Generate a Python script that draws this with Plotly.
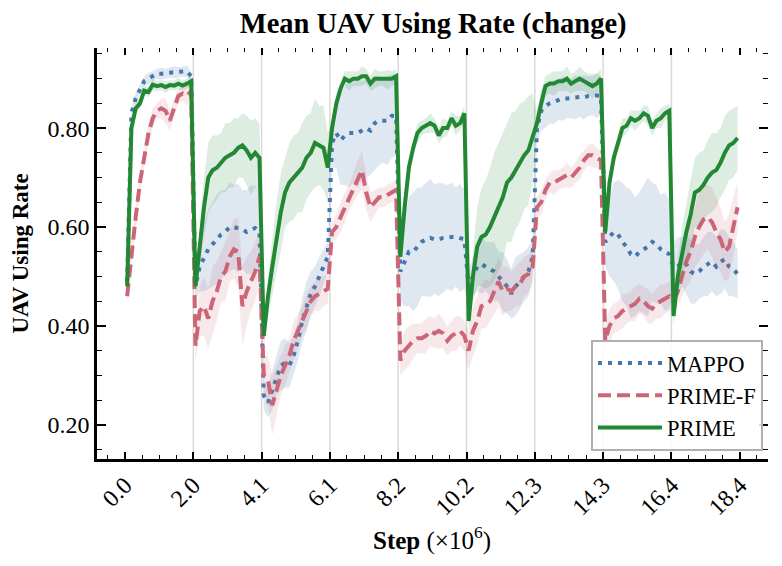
import plotly.graph_objects as go

# Mean UAV using rate over training, task changes every 2.048M steps
seg_len = 2.048
n_seg = 9
pts_per_seg = 16
step = [round(s * seg_len + 0.064 + 0.128 * j, 3) for s in range(n_seg) for j in range(pts_per_seg)]

x_tick_labels = ["0.0", "2.0", "4.1", "6.1", "8.2", "10.2", "12.3", "14.3", "16.4", "18.4"]
y_tick_vals = [0.2, 0.4, 0.6, 0.8]

mappo_mean = [
    0.49, 0.83, 0.86, 0.88, 0.895, 0.90, 0.905, 0.91, 0.91, 0.91, 0.912, 0.913, 0.913, 0.914, 0.915, 0.905,
    0.48, 0.52, 0.54, 0.555, 0.565, 0.575, 0.585, 0.59, 0.60, 0.60, 0.598, 0.595, 0.59, 0.595, 0.598, 0.59,
    0.26, 0.245, 0.27, 0.30, 0.32, 0.325, 0.32, 0.34, 0.37, 0.41, 0.44, 0.465, 0.48, 0.50, 0.52, 0.54,
    0.77, 0.79, 0.775, 0.785, 0.79, 0.79, 0.79, 0.795, 0.80, 0.795, 0.81, 0.815, 0.815, 0.815, 0.825, 0.825,
    0.51, 0.53, 0.55, 0.55, 0.56, 0.57, 0.575, 0.578, 0.575, 0.575, 0.578, 0.58, 0.58, 0.58, 0.578, 0.575,
    0.48, 0.50, 0.52, 0.525, 0.52, 0.515, 0.51, 0.50, 0.49, 0.48, 0.465, 0.48, 0.49, 0.50, 0.51, 0.54,
    0.80, 0.835, 0.845, 0.85, 0.853, 0.857, 0.86, 0.86, 0.86, 0.862, 0.863, 0.862, 0.865, 0.866, 0.866, 0.865,
    0.57, 0.58, 0.59, 0.585, 0.57, 0.56, 0.545, 0.54, 0.55, 0.555, 0.56, 0.57, 0.565, 0.555, 0.55, 0.545,
    0.52, 0.52, 0.53, 0.525, 0.51, 0.505, 0.51, 0.52, 0.525, 0.53, 0.52, 0.53, 0.535, 0.52, 0.515, 0.505,
]
mappo_spread = [
    0.01, 0.01, 0.012, 0.01, 0.01, 0.012, 0.01, 0.01, 0.012, 0.01, 0.01, 0.012, 0.01, 0.01, 0.012, 0.01,
    0.03, 0.05, 0.07, 0.08, 0.085, 0.09, 0.09, 0.085, 0.09, 0.085, 0.09, 0.08, 0.085, 0.09, 0.085, 0.08,
    0.03, 0.03, 0.04, 0.04, 0.05, 0.05, 0.045, 0.04, 0.04, 0.045, 0.05, 0.045, 0.04, 0.04, 0.035, 0.03,
    0.05, 0.07, 0.09, 0.10, 0.11, 0.10, 0.11, 0.10, 0.10, 0.09, 0.095, 0.09, 0.085, 0.09, 0.085, 0.08,
    0.06, 0.09, 0.11, 0.12, 0.12, 0.11, 0.115, 0.12, 0.11, 0.115, 0.11, 0.105, 0.11, 0.10, 0.11, 0.10,
    0.03, 0.04, 0.05, 0.06, 0.05, 0.055, 0.06, 0.05, 0.06, 0.055, 0.05, 0.06, 0.055, 0.05, 0.05, 0.04,
    0.03, 0.04, 0.045, 0.04, 0.045, 0.04, 0.045, 0.04, 0.04, 0.045, 0.04, 0.045, 0.04, 0.04, 0.045, 0.04,
    0.05, 0.08, 0.10, 0.11, 0.12, 0.12, 0.13, 0.12, 0.12, 0.13, 0.14, 0.12, 0.12, 0.11, 0.12, 0.11,
    0.05, 0.06, 0.05, 0.06, 0.065, 0.06, 0.055, 0.06, 0.065, 0.06, 0.06, 0.065, 0.06, 0.06, 0.055, 0.05,
]

primef_mean = [
    0.46, 0.55, 0.62, 0.69, 0.74, 0.79, 0.82, 0.835, 0.84, 0.835, 0.815, 0.84, 0.865, 0.87, 0.865, 0.875,
    0.36, 0.43, 0.44, 0.415, 0.45, 0.47, 0.50, 0.51, 0.54, 0.555, 0.55, 0.44, 0.47, 0.49, 0.51, 0.54,
    0.30, 0.29, 0.24, 0.27, 0.30, 0.32, 0.34, 0.37, 0.39, 0.41, 0.43, 0.45, 0.46, 0.465, 0.47, 0.475,
    0.59, 0.60, 0.62, 0.64, 0.66, 0.68, 0.70, 0.715, 0.67, 0.64, 0.65, 0.66, 0.66, 0.665, 0.67, 0.675,
    0.33, 0.35, 0.36, 0.37, 0.375, 0.375, 0.38, 0.39, 0.385, 0.39, 0.385, 0.37, 0.38, 0.385, 0.39, 0.38,
    0.35, 0.39, 0.41, 0.44, 0.445, 0.45, 0.47, 0.49, 0.47, 0.475, 0.47, 0.48, 0.485, 0.50, 0.505, 0.52,
    0.64, 0.65, 0.675, 0.69, 0.69, 0.695, 0.70, 0.705, 0.70, 0.71, 0.72, 0.735, 0.745, 0.745, 0.74, 0.735,
    0.37, 0.40, 0.415, 0.42, 0.43, 0.435, 0.44, 0.445, 0.455, 0.45, 0.44, 0.435, 0.445, 0.45, 0.455, 0.46,
    0.45, 0.47, 0.50, 0.53, 0.55, 0.58, 0.60, 0.615, 0.62, 0.61, 0.59, 0.575, 0.55, 0.56, 0.60, 0.64,
]
primef_spread = [
    0.01, 0.02, 0.02, 0.02, 0.015, 0.02, 0.02, 0.015, 0.02, 0.025, 0.02, 0.02, 0.015, 0.015, 0.02, 0.015,
    0.03, 0.05, 0.06, 0.06, 0.07, 0.06, 0.05, 0.06, 0.05, 0.06, 0.07, 0.08, 0.07, 0.06, 0.06, 0.05,
    0.04, 0.05, 0.06, 0.05, 0.04, 0.04, 0.035, 0.04, 0.035, 0.03, 0.035, 0.03, 0.03, 0.035, 0.03, 0.03,
    0.02, 0.025, 0.03, 0.03, 0.025, 0.03, 0.035, 0.04, 0.035, 0.03, 0.025, 0.02, 0.02, 0.02, 0.02, 0.02,
    0.03, 0.04, 0.04, 0.035, 0.03, 0.03, 0.035, 0.03, 0.03, 0.035, 0.03, 0.03, 0.03, 0.035, 0.03, 0.03,
    0.04, 0.05, 0.05, 0.045, 0.05, 0.04, 0.045, 0.05, 0.05, 0.045, 0.04, 0.04, 0.045, 0.04, 0.04, 0.035,
    0.02, 0.025, 0.02, 0.02, 0.025, 0.02, 0.02, 0.025, 0.02, 0.02, 0.025, 0.02, 0.02, 0.025, 0.02, 0.02,
    0.03, 0.035, 0.03, 0.03, 0.035, 0.03, 0.03, 0.035, 0.03, 0.03, 0.035, 0.03, 0.03, 0.035, 0.03, 0.03,
    0.02, 0.03, 0.04, 0.05, 0.06, 0.06, 0.07, 0.07, 0.065, 0.07, 0.07, 0.065, 0.06, 0.065, 0.06, 0.05,
]

prime_mean = [
    0.48, 0.80, 0.84, 0.85, 0.876, 0.873, 0.888, 0.885, 0.887, 0.883, 0.887, 0.886, 0.89, 0.886, 0.89, 0.895,
    0.48, 0.56, 0.64, 0.70, 0.715, 0.72, 0.73, 0.74, 0.745, 0.75, 0.76, 0.765, 0.755, 0.74, 0.75, 0.74,
    0.38, 0.46, 0.52, 0.58, 0.63, 0.67, 0.69, 0.70, 0.71, 0.72, 0.74, 0.75, 0.77, 0.765, 0.76, 0.72,
    0.80, 0.85, 0.88, 0.90, 0.895, 0.90, 0.90, 0.905, 0.905, 0.89, 0.90, 0.90, 0.90, 0.898, 0.90, 0.905,
    0.54, 0.64, 0.72, 0.76, 0.79, 0.80, 0.805, 0.81, 0.805, 0.785, 0.80, 0.80, 0.82, 0.805, 0.81, 0.83,
    0.41, 0.50, 0.56, 0.58, 0.585, 0.60, 0.62, 0.64, 0.66, 0.69, 0.70, 0.715, 0.73, 0.745, 0.755, 0.78,
    0.81, 0.85, 0.885, 0.89, 0.89, 0.895, 0.895, 0.90, 0.89, 0.895, 0.90, 0.895, 0.89, 0.885, 0.89, 0.90,
    0.59, 0.69, 0.74, 0.77, 0.80, 0.805, 0.82, 0.815, 0.82, 0.83, 0.825, 0.80, 0.815, 0.82, 0.83, 0.835,
    0.42, 0.50, 0.55, 0.59, 0.625, 0.67, 0.675, 0.685, 0.70, 0.71, 0.715, 0.73, 0.75, 0.765, 0.77, 0.78,
]
prime_spread = [
    0.02, 0.01, 0.01, 0.012, 0.01, 0.01, 0.012, 0.01, 0.01, 0.012, 0.01, 0.01, 0.012, 0.01, 0.01, 0.012,
    0.02, 0.04, 0.06, 0.07, 0.07, 0.065, 0.06, 0.07, 0.065, 0.07, 0.06, 0.065, 0.07, 0.075, 0.07, 0.07,
    0.02, 0.04, 0.06, 0.07, 0.08, 0.07, 0.08, 0.085, 0.08, 0.09, 0.085, 0.08, 0.09, 0.08, 0.085, 0.07,
    0.015, 0.02, 0.015, 0.015, 0.02, 0.015, 0.015, 0.02, 0.015, 0.015, 0.02, 0.015, 0.015, 0.02, 0.015, 0.015,
    0.015, 0.02, 0.015, 0.015, 0.02, 0.015, 0.015, 0.02, 0.015, 0.015, 0.02, 0.015, 0.015, 0.02, 0.015, 0.015,
    0.02, 0.05, 0.08, 0.10, 0.11, 0.12, 0.13, 0.13, 0.13, 0.12, 0.13, 0.12, 0.12, 0.11, 0.11, 0.09,
    0.02, 0.025, 0.02, 0.02, 0.025, 0.02, 0.02, 0.025, 0.02, 0.02, 0.025, 0.02, 0.02, 0.025, 0.02, 0.02,
    0.015, 0.02, 0.015, 0.015, 0.02, 0.015, 0.015, 0.02, 0.015, 0.015, 0.02, 0.015, 0.015, 0.02, 0.015, 0.015,
    0.02, 0.04, 0.05, 0.06, 0.07, 0.07, 0.075, 0.07, 0.075, 0.08, 0.075, 0.07, 0.075, 0.07, 0.07, 0.065,
]

series = [
    ("MAPPO", mappo_mean, mappo_spread, "#4477AA", "rgba(68,119,170,0.17)", "4px,6px"),
    ("PRIME-F", primef_mean, primef_spread, "#CC6677", "rgba(204,102,119,0.15)", "13px,6px"),
    ("PRIME", prime_mean, prime_spread, "#228833", "rgba(34,136,51,0.15)", "solid"),
]

FONT = "Liberation Serif"

fig = go.Figure()
for name, mean, spread, color, fill, dash in series:
    hi = [m + s for m, s in zip(mean, spread)]
    lo = [m - s for m, s in zip(mean, spread)]
    fig.add_trace(go.Scatter(
        x=step + step[::-1], y=hi + lo[::-1],
        fill="toself", fillcolor=fill, line=dict(width=0),
        mode="lines", showlegend=False, hoverinfo="skip"
    ))
    fig.add_trace(go.Scatter(
        x=step, y=mean, mode="lines", name=name,
        line=dict(color=color, width=4, dash=dash)
    ))

# dummy trace so the mirrored top/right tick axes get drawn
fig.add_trace(go.Scatter(x=[None], y=[None], xaxis="x2", yaxis="y2", showlegend=False, hoverinfo="skip"))

# task change markers
for k in range(1, n_seg):
    fig.add_shape(type="line", x0=k * seg_len, x1=k * seg_len, y0=0, y1=1,
                  xref="x", yref="paper", layer="below",
                  line=dict(color="#d9d9d9", width=1.5))

x_range = [-0.84, 19.28]
y_range = [0.131, 0.962]
x_ticks = [k * seg_len for k in range(len(x_tick_labels))]
x_minor = [k * seg_len / 4 for k in range(-1, 39) if k % 4 != 0]
y_minor = [round(0.15 + 0.05 * k, 2) for k in range(17) if round(0.15 + 0.05 * k, 2) not in y_tick_vals]

tick_common = dict(ticks="inside", tickcolor="black", showgrid=False, zeroline=False)

# page body has an 8px default margin, so the figure is 16px smaller than the window
W, H = 766, 550
fig.update_layout(
    width=W, height=H,
    margin=dict(l=89, r=6, t=40, b=99),
    paper_bgcolor="white", plot_bgcolor="white",
    font=dict(family=FONT, size=24, color="black"),
    title=dict(text="<b>Mean UAV Using Rate (change)</b>", x=0.501, xref="paper",
               y=1 - 15.5 / H, yanchor="middle", font=dict(size=28.5, family=FONT)),
    xaxis=dict(range=x_range, tickmode="array", tickvals=x_ticks, ticktext=x_tick_labels,
               tickangle=-45, ticklen=7, tickwidth=1.8, showline=True, linecolor="black", linewidth=2.5,
               minor=dict(tickmode="array", tickvals=x_minor, ticks="inside", ticklen=4,
                          tickwidth=1.2, tickcolor="black"),
               **tick_common),
    yaxis=dict(range=y_range, tickmode="array", tickvals=y_tick_vals,
               ticktext=["0.20", "0.40", "0.60", "0.80"],
               ticklen=9, tickwidth=1.8, showline=True, linecolor="black", linewidth=2.5,
               minor=dict(tickmode="array", tickvals=y_minor, ticks="inside", ticklen=5,
                          tickwidth=1.2, tickcolor="black"),
               **tick_common),
    xaxis2=dict(range=x_range, overlaying="x", side="top", anchor="y2", showticklabels=False,
                tickmode="array", tickvals=x_ticks, ticklen=7, tickwidth=1.8, showline=False,
                minor=dict(tickmode="array", tickvals=x_minor, ticks="inside", ticklen=4,
                           tickwidth=1.2, tickcolor="black"),
                **tick_common),
    yaxis2=dict(range=y_range, overlaying="y", side="right", anchor="x2", showticklabels=False,
                tickmode="array", tickvals=y_tick_vals, ticklen=9, tickwidth=1.8, showline=False,
                minor=dict(tickmode="array", tickvals=y_minor, ticks="inside", ticklen=5,
                           tickwidth=1.2, tickcolor="black"),
                **tick_common),
    legend=dict(x=0.9925, y=0.02, xanchor="right", yanchor="bottom",
                bgcolor="rgba(255,255,255,0.85)", bordercolor="#b0b0b0", borderwidth=2,
                font=dict(size=22.5, family=FONT), itemwidth=64, tracegroupgap=0),
    annotations=[
        dict(text="<b>Step</b> (×10<sup>6</sup>)", xref="paper", yref="paper",
             x=0.499, y=(451 - 530) / 411, xanchor="center", yanchor="middle",
             showarrow=False, font=dict(size=25, family=FONT)),
        dict(text="<b>UAV Using Rate</b>", xref="paper", yref="paper",
             x=(12 - 89) / 671, y=0.5, xanchor="center", yanchor="middle", textangle=-90,
             showarrow=False, font=dict(size=23, family=FONT)),
    ],
)

fig.write_html("out.html")
